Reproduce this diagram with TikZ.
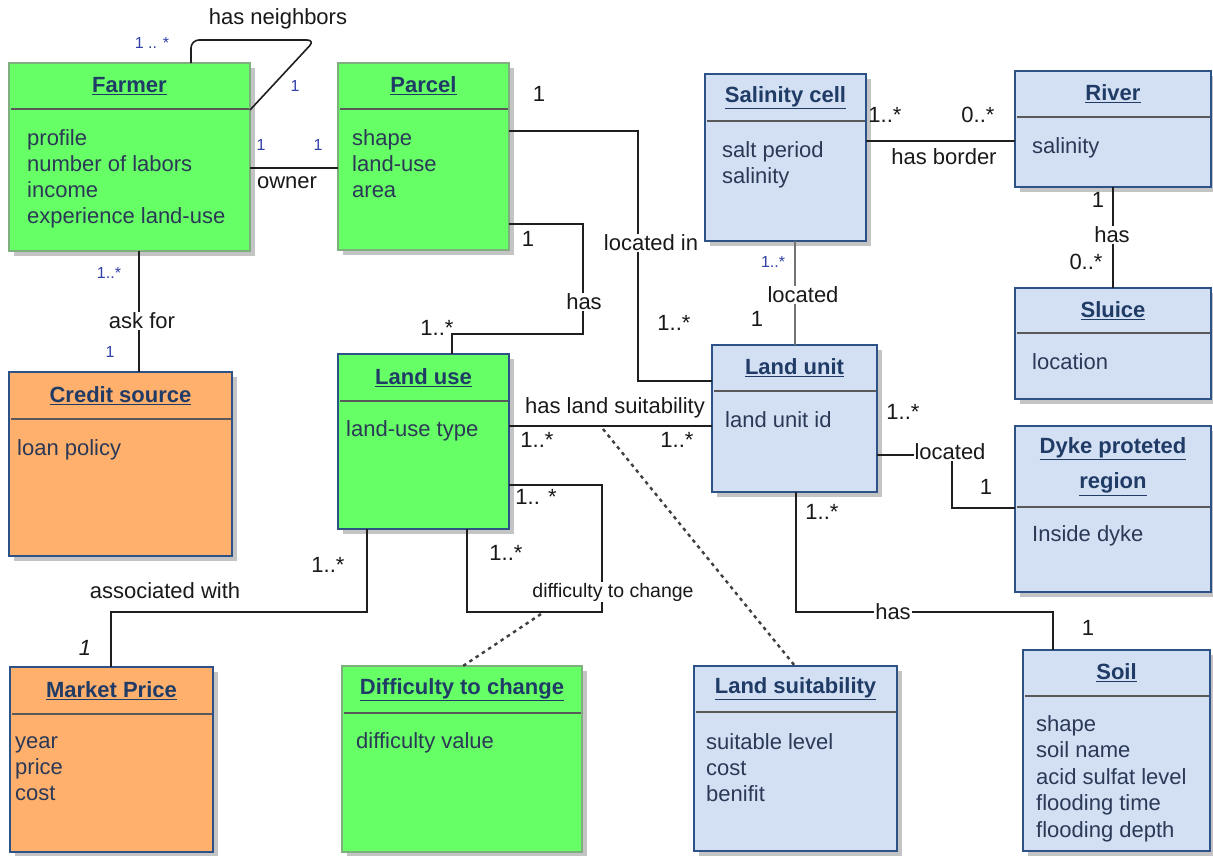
\documentclass[tikz,border=0pt]{standalone}
\usepackage{fontspec}
\setmainfont{Liberation Sans}
\usetikzlibrary{calc}
\definecolor{gfill}{HTML}{66FF66}
\definecolor{gborder}{HTML}{7FAF7F}
\definecolor{bfill}{HTML}{D3E0F3}
\definecolor{bborder}{HTML}{2C5288}
\definecolor{ofill}{HTML}{FFB06C}
\definecolor{titlec}{HTML}{1F3B66}
\definecolor{attrc}{HTML}{2B3856}
\definecolor{multblue}{HTML}{3040A8}
\definecolor{shadowc}{HTML}{C4C4C4}
\tikzset{
 classbox/.style={draw, line width=1.6pt, inner sep=0pt, outer sep=0pt, anchor=north west},
 greenbox/.style={classbox, fill=gfill, draw=gborder},
 greenbbox/.style={classbox, fill=gfill, draw=bborder},
 bluebox/.style={classbox, fill=bfill, draw=bborder},
 orangebox/.style={classbox, fill=ofill, draw=bborder},
 divider/.style={draw=black!65, line width=1.8pt},
 titletext/.style={font=\fontsize{22}{26}\selectfont\bfseries, text=titlec, inner sep=0pt, align=center},
 attr/.style={font=\fontsize{22}{26}\selectfont, text=attrc, inner sep=0pt, anchor=north west, align=left},
 conn/.style={draw=black!88, line width=1.6pt},
 dashconn/.style={draw=black!75, line width=2.4pt, dash pattern=on 3.5pt off 4pt},
 lbl/.style={font=\fontsize{22}{26}\selectfont, text=black!90, inner sep=1pt},
 lblw/.style={lbl, fill=white},
 smult/.style={font=\fontsize{16}{18}\selectfont, text=multblue, inner sep=0pt},
}
\newcommand{\umlclass}[8]{%
 \fill[shadowc] ({#3+5},{#4+5}) rectangle ({#5+5},{#6+5});
 \node[#2, minimum width={#5-#3}, minimum height={#6-#4}] (#1) at (#3,#4) {};
 \draw[divider] ({#3+1.5},#7) -- ({#5-1.5},#7);
 \node[titletext] (#1-title) at ({(#3+#5)/2},{(#4+#7)/2}) {#8};
}
\begin{document}
\begin{tikzpicture}[x=1pt,y=-1pt]
\useasboundingbox[fill=white] (0,0) rectangle (1213,855);
% classes
\umlclass{farmer}{greenbox}{9}{63}{250}{251}{109}{\underline{Farmer}}
\node[attr] (farmer-attr) at (27,129) {profile\\number of labors\\income\\experience land-use};
\umlclass{parcel}{greenbox}{338}{63}{509}{250}{109}{\underline{Parcel}}
\node[attr] (parcel-attr) at (352,129) {shape\\land-use\\area};
\umlclass{salinity}{bluebox}{705}{74}{866}{241}{121}{\underline{Salinity cell}}
\node[attr] (salinity-attr) at (722,141) {salt period\\salinity};
\umlclass{river}{bluebox}{1015}{71}{1211}{187}{117}{\underline{River}}
\node[attr] (river-attr) at (1032,137) {salinity};
\umlclass{sluice}{bluebox}{1015}{288}{1211}{399}{333}{\underline{Sluice}}
\node[attr] (sluice-attr) at (1032,353) {location};
\umlclass{landunit}{bluebox}{712}{345}{877}{492}{391}{\underline{Land unit}}
\node[attr] (landunit-attr) at (725,411) {land unit id};
\umlclass{dyke}{bluebox}{1015}{426}{1211}{592}{507}{\underline{Dyke proteted}\\[9pt]\underline{region}}
\node[attr] (dyke-attr) at (1032,525) {Inside dyke};
\umlclass{credit}{orangebox}{9}{372}{232}{556}{419}{\underline{Credit source}}
\node[attr] (credit-attr) at (17,439) {loan policy};
\umlclass{landuse}{greenbbox}{338}{354}{509}{529}{401}{\underline{Land use}}
\node[attr] (landuse-attr) at (346,420) {land-use type};
\umlclass{market}{orangebox}{10}{667}{213}{852}{714}{\underline{Market Price}}
\node[attr] (market-attr) at (15,736) {year\\price\\cost};
\umlclass{difficulty}{greenbox}{342}{666}{582}{852}{713}{\underline{Difficulty to change}}
\node[attr] (difficulty-attr) at (356,732) {difficulty value};
\umlclass{suitability}{bluebox}{694}{666}{897}{851}{712}{\underline{Land suitability}}
\node[attr] (suitability-attr) at (706,733) {suitable level\\cost\\benifit};
\umlclass{soil}{bluebox}{1023}{650}{1210}{851}{696}{\underline{Soil}}
\node[attr, font=\fontsize{22}{26.5}\selectfont] (soil-attr) at (1036,715) {shape\\soil name\\acid sulfat level\\flooding time\\flooding depth};
% connectors
\draw[conn, rounded corners=8] (farmer.north -| 191,0) -- (191,40) -- (315,40) -- (farmer.north east |- 0,110);
\draw[conn] (farmer.east |- 0,168) -- (parcel.west |- 0,168);
\draw[conn] (farmer.south -| 139,0) -- (credit.north -| 139,0);
\draw[conn] (parcel.east |- 0,131) -- (638,131) -- (638,381) -- (landunit.west |- 0,381);
\draw[conn] (parcel.east |- 0,224) -- (583,224) -- (583,334) -- (452,334) -- (landuse.north -| 452,0);
\draw[conn, draw=black!55, line width=2.6pt] (salinity.south -| 795,0) -- (landunit.north -| 795,0);
\draw[conn] (salinity.east |- 0,141) -- (river.west |- 0,141);
\draw[conn] (river.south -| 1113,0) -- (sluice.north -| 1113,0);
\draw[conn] (landuse.east |- 0,426) -- (landunit.west |- 0,426);
\coordinate (lsmid) at (603,429);
\draw[dashconn] (lsmid) -- (suitability.north -| 795,0);
\draw[conn] (landuse.east |- 0,485) -- (602,485) -- (602,612) -- (467,612) -- (landuse.south -| 467,0);
\coordinate (dcmid) at (541,614);
\draw[dashconn] (dcmid) -- (difficulty.north -| 463,0);
\draw[conn] (landuse.south -| 367,0) -- (367,612) -- (111,612) -- (market.north -| 111,0);
\draw[conn] (landunit.east |- 0,455) -- (952,455) -- (952,508) -- (dyke.west |- 0,508);
\draw[conn] (landunit.south -| 796,0) -- (796,612) -- (1053,612) -- (soil.north -| 1053,0);
% labels
\node[lbl] (l-neigh) at (278,19) {has neighbors};
\node[smult] (m-neigh1) at (152,43) {1 .. *};
\node[smult] (m-neigh2) at (295,86) {1};
\node[smult] (m-own1) at (261,145) {1};
\node[smult] (m-own2) at (318,145) {1};
\node[lbl] (l-owner) at (287,183) {owner};
\node[smult] (m-ask1) at (109,273) {1..*};
\node[lblw] (l-ask) at (142,321) {ask for};
\node[smult] (m-ask2) at (110,352) {1};
\node[lbl] (m-loc1) at (539,94) {1};
\node[lblw] (l-locin) at (651,243) {located in};
\node[lbl] (m-loc2) at (674,323) {1..*};
\node[lbl] (m-has1) at (528,239) {1};
\node[lblw] (l-has1) at (584,302) {has};
\node[lbl] (m-has2) at (437,328) {1..*};
\node[lbl] (m-bor1) at (885,115) {1..*};
\node[lbl] (m-bor2) at (978,115) {0..*};
\node[lbl] (l-border) at (944,157) {has border};
\node[lbl] (m-sl1) at (1098,200) {1};
\node[lblw] (l-has2) at (1112,235) {has};
\node[lbl] (m-sl2) at (1086,262) {0..*};
\node[smult] (m-sal1) at (773,262) {1..*};
\node[lblw] (l-located1) at (803,295) {located};
\node[lbl] (m-sal2) at (757,319) {1};
\node[lbl] (l-suit) at (615,408) {has land suitability};
\node[lbl] (m-suit1) at (537,440) {1..*};
\node[lbl] (m-suit2) at (677,440) {1..*};
\node[lbl] (m-dif1) at (536,497) {1.. *};
\node[lbl] (m-dif2) at (506,553) {1..*};
\node[lblw, font=\fontsize{19.5}{23}\selectfont] (l-dif) at (613,592) {difficulty to change};
\node[lbl] (m-ass1) at (328,565) {1..*};
\node[lbl] (l-ass) at (165,591) {associated with};
\node[lbl] (m-ass2) at (85,648) {\textit{1}};
\node[lbl] (m-dyk1) at (903,412) {1..*};
\node[lblw] (l-located2) at (950,452) {located};
\node[lbl] (m-dyk2) at (986,487) {1};
\node[lbl] (m-soil1) at (822,512) {1..*};
\node[lblw] (l-has3) at (893,612) {has};
\node[lbl] (m-soil2) at (1088,628) {1};
\end{tikzpicture}
\end{document}
